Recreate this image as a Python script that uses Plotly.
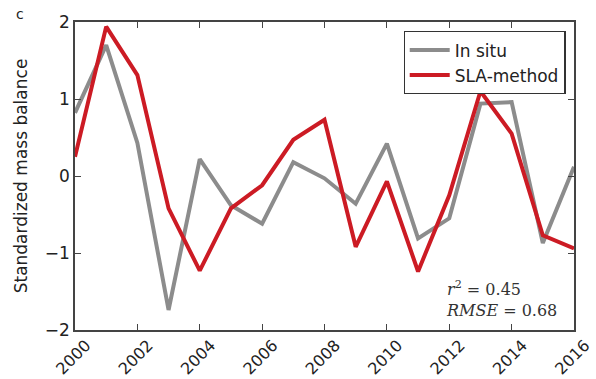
import plotly.graph_objects as go

years = list(range(2000, 2017))
in_situ = [0.82, 1.70, 0.43, -1.74, 0.22, -0.38, -0.62, 0.18, -0.03, -0.36, 0.42, -0.81, -0.55, 0.94, 0.96, -0.87, 0.12]
sla_method = [0.25, 1.94, 1.31, -0.42, -1.23, -0.42, -0.12, 0.47, 0.73, -0.92, -0.07, -1.24, -0.25, 1.10, 0.55, -0.77, -0.94]
x_ticks = list(range(2000, 2017, 2))
y_ticks = [-2, -1, 0, 1, 2]

W, H = 596, 379
ml, mr, mt, mb = 75, 22, 22, 49

fig = go.Figure()
fig.add_trace(go.Scatter(x=years, y=in_situ, mode="lines", name="In situ",
                         line=dict(color="#8c8c8c", width=4)))
fig.add_trace(go.Scatter(x=years, y=sla_method, mode="lines", name="SLA-method",
                         line=dict(color="#cc1b24", width=4)))

axis_common = dict(showline=True, linecolor="#444444", linewidth=1.5, mirror="ticks",
                   ticks="inside", ticklen=6, tickwidth=1.2, tickcolor="#444444",
                   showgrid=False, zeroline=False, automargin=False)

fig.update_layout(
    width=W, height=H,
    margin=dict(l=ml, r=mr, t=mt, b=mb),
    paper_bgcolor="white", plot_bgcolor="white",
    showlegend=True,
    legend=dict(x=0.983, y=0.97, xanchor="right", yanchor="top",
                bgcolor="white", bordercolor="#333333", borderwidth=1.2,
                font=dict(family="DejaVu Sans", size=17, color="#222222"),
                itemwidth=40, tracegroupgap=0),
    xaxis=dict(range=[2000, 2016], tickvals=x_ticks, ticktext=[str(v) for v in x_ticks],
               tickangle=-45, ticklabelshift=11, ticklabelstandoff=-2,
               ticklabeloverflow="allow",
               tickfont=dict(family="DejaVu Sans", size=16, color="#222222"),
               **axis_common),
    yaxis=dict(range=[-2, 2], tickvals=y_ticks, ticktext=["\u22122", "\u22121", "0", "1", "2"],
               tickfont=dict(family="DejaVu Sans", size=17, color="#222222"),
               title=dict(text="Standardized mass balance", standoff=13,
                          font=dict(family="DejaVu Sans", size=17, color="#222222")),
               **axis_common),
    annotations=[
        dict(text="c", xref="paper", yref="paper", x=-0.11, y=1.025,
             xanchor="center", yanchor="middle", showarrow=False,
             font=dict(family="DejaVu Sans", size=14, color="#222222")),
        dict(text="<i>r</i><sup>2</sup> = 0.45<br><i>RMSE</i> = 0.68", xref="paper", yref="paper",
             x=0.97, y=0.025, xanchor="right", yanchor="bottom", align="left", showarrow=False,
             font=dict(family="DejaVu Serif", size=16, color="#333333")),
    ],
)

fig.write_html("out.html", config={"displayModeBar": False},
               post_script="document.body.style.margin='0';document.body.style.overflow='hidden';")
